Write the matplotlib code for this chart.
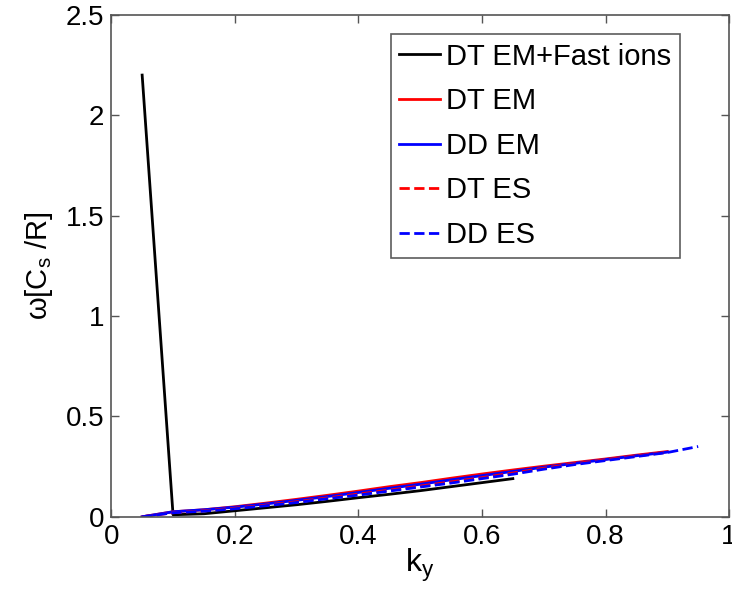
import matplotlib
matplotlib.use('Agg')
import matplotlib.pyplot as plt

plt.rcParams['font.family'] = ['Liberation Sans', 'DejaVu Sans']
plt.rcParams['mathtext.default'] = 'regular'

# growth-rate style data
k_fast = [0.05, 0.1, 0.15, 0.2, 0.25, 0.3, 0.35, 0.4, 0.45, 0.5, 0.55, 0.6, 0.65]
w_fast = [2.2, 0.01, 0.015, 0.03, 0.045, 0.06, 0.077, 0.095, 0.112, 0.13, 0.15, 0.17, 0.19]

k_em = [0.05, 0.1, 0.15, 0.2, 0.25, 0.3, 0.35, 0.4, 0.45, 0.5, 0.55, 0.6, 0.65,
        0.7, 0.75, 0.8, 0.85, 0.9]
w_dt_em = [0.0, 0.025, 0.035, 0.05, 0.068, 0.087, 0.107, 0.128, 0.15, 0.17, 0.192,
           0.213, 0.233, 0.252, 0.27, 0.288, 0.307, 0.325]
w_dd_em = [0.0, 0.025, 0.035, 0.048, 0.064, 0.082, 0.101, 0.121, 0.142, 0.162, 0.184,
           0.205, 0.226, 0.247, 0.266, 0.285, 0.304, 0.322]
w_dt_es = [0.0, 0.02, 0.03, 0.043, 0.058, 0.075, 0.094, 0.113, 0.133, 0.153, 0.174,
           0.195, 0.218, 0.242, 0.264, 0.284, 0.303, 0.322]

k_dd_es = [0.05, 0.1, 0.15, 0.2, 0.25, 0.3, 0.35, 0.4, 0.45, 0.5, 0.55, 0.6, 0.65,
           0.7, 0.75, 0.8, 0.85, 0.9, 0.95]
w_dd_es = [0.0, 0.02, 0.028, 0.04, 0.055, 0.071, 0.09, 0.108, 0.128, 0.148, 0.168,
           0.19, 0.212, 0.237, 0.26, 0.28, 0.3, 0.32, 0.35]

fig = plt.figure(figsize=(7.32, 5.94), dpi=100)
ax = fig.add_axes([0.152, 0.130, 0.844, 0.845])

lw = 2
ax.plot(k_fast, w_fast, color='black', lw=lw, label='DT EM+Fast ions')
ax.plot(k_em, w_dt_em, color='red', lw=lw, label='DT EM')
ax.plot(k_em, w_dd_em, color='blue', lw=lw, label='DD EM')
ax.plot(k_em, w_dt_es, color='red', lw=lw, ls='--', label='DT ES')
ax.plot(k_dd_es, w_dd_es, color='blue', lw=lw, ls='--', label='DD ES')

ax.set_xlim(0, 1)
ax.set_ylim(0, 2.5)
ax.set_xticks([0, 0.2, 0.4, 0.6, 0.8, 1])
ax.set_xticklabels(['0', '0.2', '0.4', '0.6', '0.8', '1'])
ax.set_yticks([0, 0.5, 1, 1.5, 2, 2.5])
ax.set_yticklabels(['0', '0.5', '1', '1.5', '2', '2.5'])
ax.tick_params(direction='in', top=True, right=True, length=6, width=1,
               labelsize=20, color='#555555', pad=5)
for s in ax.spines.values():
    s.set_color('#555555')
    s.set_linewidth(1.2)

ax.set_xlabel('k$_y$', fontsize=23, labelpad=-2)
ax.set_ylabel('ω[C$_s$ /R]', fontsize=21, labelpad=8)

leg = ax.legend(loc='upper right', bbox_to_anchor=(0.929, 0.943),
                bbox_transform=fig.transFigure, borderaxespad=0, fontsize=21,
                frameon=True, fancybox=False, handlelength=1.4, handletextpad=0.2,
                borderpad=0.3, labelspacing=0.57)
leg.get_frame().set_edgecolor('#333333')
leg.get_frame().set_linewidth(1.2)

fig.savefig('out.png', dpi=100)
